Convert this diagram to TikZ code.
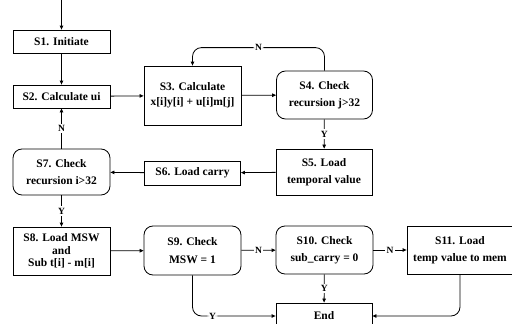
\documentclass[tikz,border=0pt]{standalone}
\usepackage{fontspec}
\setmainfont{Liberation Serif}
\usetikzlibrary{arrows.meta}

\tikzset{
	box/.style={draw, black, line width=0.8pt, minimum width=97pt, inner sep=0pt, align=center, font=\bfseries\fontsize{11.5}{12.5}\selectfont},
	check/.style={box, rounded corners=9pt},
	lbl/.style={fill=white, inner sep=1.5pt, font=\bfseries\fontsize{9.5}{10}\selectfont},
	flow/.style={->, black, line width=0.8pt, >={Triangle[length=4pt,width=3.5pt]}}
}

\begin{document}
\begin{tikzpicture}[x=1pt, y=-1pt]
			\clip (0,0) rectangle (512,324);
			\fill[white] (0,0) rectangle (512,324);
			% left column
			\coordinate (start) at (61.5,0);
			\node[box, minimum height=23pt] (s1) at (61.5,41.5) {S1. Initiate};
			\node[box, minimum height=23pt] (s2) at (61.5,96.5) {S2. Calculate ui};
			\node[check, minimum height=46pt] (s7) at (61.5,172) {S7. Check\\[5pt]recursion i>32};
			\node[box, minimum height=48pt] (s8) at (61.5,251) {S8. Load MSW\\and\\Sub t[i] - m[i]};
			% middle columns
			\node[box, minimum height=59pt] (s3) at (192.5,95.5) {S3. Calculate\\[3pt]x[i]y[i] + u[i]m[j]};
			\node[box, minimum height=24pt, minimum width=96pt] (s6) at (192.5,173) {S6. Load carry};
			\node[check, minimum height=49pt] (s9) at (192.5,250.5) {S9. Check\\[5pt]MSW = 1};
			\node[check, minimum height=48pt, minimum width=96pt] (s4) at (324.5,95) {S4. Check\\[5pt]recursion j>32};
			\node[box, minimum height=46pt, minimum width=96pt] (s5) at (324,172) {S5. Load\\[5pt]temporal value};
			\node[check, minimum height=48pt] (s10) at (324.5,250) {S10. Check\\[5pt]sub\_carry = 0};
			\node[box, minimum height=26pt, minimum width=96pt] (end) at (324,316) {End};
			% right column
			\node[box, minimum height=48pt, minimum width=106pt] (s11) at (460,250) {S11. Load\\[5pt]temp value to mem};
			% connectors
			\draw[flow] (start) -- (s1);
			\draw[flow] (s1) -- (s2);
			\draw[flow] (s2) -- (s3);
			\draw[flow] (s3) -- (s4);
			\draw[flow, rounded corners=9pt] (s4.north) -- ++(0,-23) -| node[lbl, pos=0.25] {N} (s3.north);
			\draw[flow] (s4) -- node[lbl] {Y} (s5);
			\draw[flow] (s5) -- (s6);
			\draw[flow] (s6) -- (s7);
			\draw[flow] (s7) -- node[lbl] {N} (s2);
			\draw[flow] (s7) -- node[lbl] {Y} (s8);
			\draw[flow] (s8) -- (s9);
			\draw[flow] (s9) -- node[lbl] {N} (s10);
			\draw[flow] (s10) -- node[lbl] {N} (s11);
			\draw[flow] (s10) -- node[lbl] {Y} (end);
			\draw[flow, rounded corners=9pt] (s9.south) |- node[lbl, pos=0.62] {Y} (end.west);
			\draw[flow, rounded corners=9pt] (s11.south) |- (end.east);
\end{tikzpicture}
\end{document}
